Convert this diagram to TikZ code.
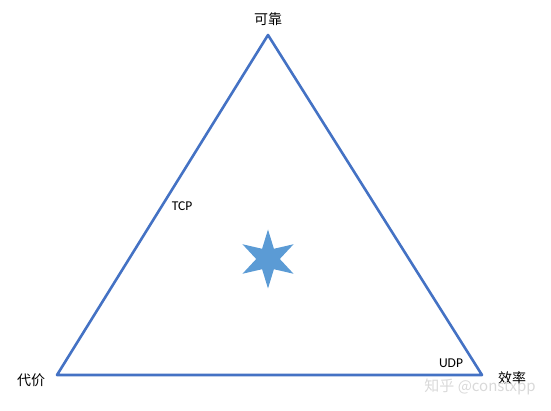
\documentclass[tikz,border=0pt]{standalone}
\usepackage{fontspec}
\setsansfont{Carlito}
\newfontfamily\cjk{Noto Sans CJK SC}
\usetikzlibrary{shapes.geometric}
\definecolor{edgeblue}{HTML}{4472C4}
\definecolor{starblue}{HTML}{5B9BD5}
\tikzset{
  corner/.style={font=\cjk\fontsize{14}{14}\selectfont, inner sep=0pt},
  proto/.style={font=\sffamily\fontsize{13.5}{13.5}\selectfont, inner sep=0pt}
}
\begin{document}
\begin{tikzpicture}[x=1pt,y=-1pt]
    \useasboundingbox (0,0) rectangle (551,411);
    % corners of the triangle
    \coordinate (top) at (268,35);
    \coordinate (left) at (57,375);
    \coordinate (right) at (482,375);
    \draw[edgeblue, line width=2.6pt, line join=round] (top) -- (right) -- (left) -- cycle;
    \node[corner] (kekao) at (268,19) {可靠};
    \node[corner] (daijia) at (31,380) {代价};
    \node[corner] (xiaolv) at (512,378) {效率};
    \node[proto] (tcp) at (182,206) {TCP};
    \node[proto] (udp) at (451,363) {UDP};
    \node[star, star points=6, star point ratio=2.5, minimum size=59pt, inner sep=0pt, fill=starblue] (center) at (268,259) {};
    \node[font=\cjk\fontsize{15}{15}\selectfont, text=gray!30, inner sep=0pt] (mark) at (480,387) {知乎 @constxpp};
\end{tikzpicture}
\end{document}
